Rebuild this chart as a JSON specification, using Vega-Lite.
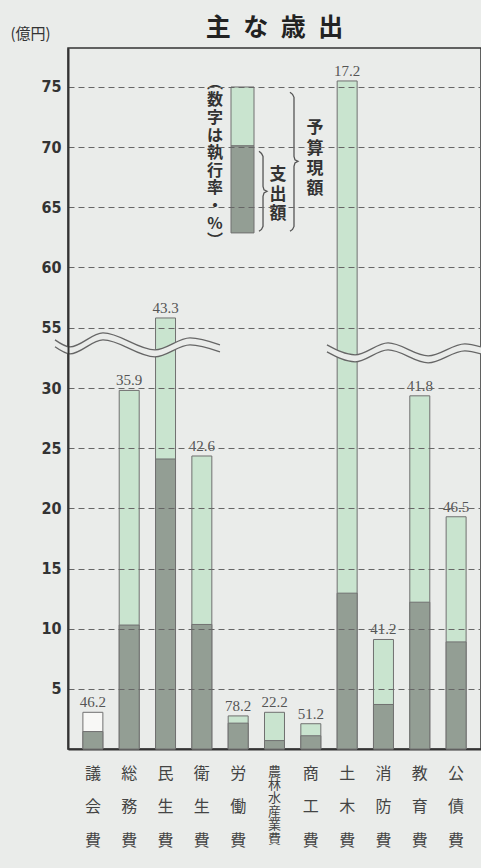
{
  "$schema": "https://vega.github.io/schema/vega-lite/v6.json",
  "width": 413,
  "height": 701,
  "autosize": "none",
  "padding": {"left": 68, "top": 48, "right": 0, "bottom": 119},
  "background": "#eaecea",
  "view": {"stroke": "#333", "strokeWidth": 1.5},
  "title": {"text": "主\u2002な\u2002歳\u2002出", "font": "Noto Sans CJK JP", "fontSize": 25, "fontWeight": "bold", "color": "#222", "baseline": "bottom", "offset": 0, "dy": 40, "anchor": "middle"},
  "datasets": {
    "main": [
      {"cat": "議会費", "budget": 3.05, "spent": 1.45, "rate": 46.2},
      {"cat": "総務費", "budget": 29.8, "spent": 10.3, "rate": 35.9},
      {"cat": "民生費", "budget": 55.8, "spent": 24.1, "rate": 43.3},
      {"cat": "衛生費", "budget": 24.35, "spent": 10.35, "rate": 42.6},
      {"cat": "労働費", "budget": 2.75, "spent": 2.15, "rate": 78.2},
      {"cat": "農林水産業費", "budget": 3.05, "spent": 0.7, "rate": 22.2},
      {"cat": "商工費", "budget": 2.1, "spent": 1.1, "rate": 51.2},
      {"cat": "土木費", "budget": 75.5, "spent": 12.95, "rate": 17.2},
      {"cat": "消防費", "budget": 9.1, "spent": 3.7, "rate": 41.2},
      {"cat": "教育費", "budget": 29.35, "spent": 12.2, "rate": 41.8},
      {"cat": "公債費", "budget": 19.3, "spent": 8.9, "rate": 46.5}
    ],
    "wave": [
      {"seg": "L", "u": -3.15, "top": 49.93, "bot": 47.04},
      {"seg": "L", "u": 0.48, "top": 47.04, "bot": 44.15},
      {"seg": "L", "u": 8.47, "top": 52.81, "bot": 49.92},
      {"seg": "L", "u": 21.07, "top": 45.8, "bot": 42.91},
      {"seg": "L", "u": 29.54, "top": 50.75, "bot": 47.86},
      {"seg": "L", "u": 36.8, "top": 47.86, "bot": 44.97},
      {"seg": "R", "u": 62.7, "top": 47.86, "bot": 44.97},
      {"seg": "R", "u": 69.5, "top": 43.74, "bot": 40.85},
      {"seg": "R", "u": 77.5, "top": 48.68, "bot": 45.79},
      {"seg": "R", "u": 87.2, "top": 43.33, "bot": 40.44},
      {"seg": "R", "u": 96.1, "top": 48.27, "bot": 45.38},
      {"seg": "R", "u": 100, "top": 47.04, "bot": 44.15}
    ],
    "brace": [
      {"b": "spent", "i": 0, "u": 46.25, "v": 69.65},
      {"b": "spent", "i": 1, "u": 46.85, "v": 69.48},
      {"b": "spent", "i": 2, "u": 47.22, "v": 69.23},
      {"b": "spent", "i": 3, "u": 47.22, "v": 66.74},
      {"b": "spent", "i": 4, "u": 47.46, "v": 66.45},
      {"b": "spent", "i": 5, "u": 48.18, "v": 66.33},
      {"b": "spent", "i": 6, "u": 47.46, "v": 66.2},
      {"b": "spent", "i": 7, "u": 47.22, "v": 65.91},
      {"b": "spent", "i": 8, "u": 47.22, "v": 63.41},
      {"b": "spent", "i": 9, "u": 46.85, "v": 63.16},
      {"b": "spent", "i": 10, "u": 46.25, "v": 63.0},
      {"b": "budget", "i": 0, "u": 53.75, "v": 74.56},
      {"b": "budget", "i": 1, "u": 54.36, "v": 74.39},
      {"b": "budget", "i": 2, "u": 54.72, "v": 74.14},
      {"b": "budget", "i": 3, "u": 54.72, "v": 69.23},
      {"b": "budget", "i": 4, "u": 54.96, "v": 68.94},
      {"b": "budget", "i": 5, "u": 55.69, "v": 68.82},
      {"b": "budget", "i": 6, "u": 54.96, "v": 68.69},
      {"b": "budget", "i": 7, "u": 54.72, "v": 68.4},
      {"b": "budget", "i": 8, "u": 54.72, "v": 63.41},
      {"b": "budget", "i": 9, "u": 54.36, "v": 63.16},
      {"b": "budget", "i": 10, "u": 53.75, "v": 63.0}
    ],
    "legend": [
      {"part": "予算現額", "lo": 70.1, "hi": 75.0},
      {"part": "支出額", "lo": 62.87, "hi": 70.1}
    ]
  },
  "layer": [
    {
      "data": {"name": "main"},
      "encoding": {
        "x": {
          "field": "cat", "type": "nominal", "sort": null,
          "scale": {"paddingInner": 0.45, "paddingOuter": 0.41},
          "axis": {
            "title": null, "ticks": false, "domainColor": "#333", "domainWidth": 2,
            "labelExpr": "length(datum.label) > 3 ? split(join(split(datum.label, ''), '\\n\u200b\\n'), '\\n') : split(join(split(datum.label, ''), '\\n\u200b\\n\u200b\\n\u200b\\n\u200b\\n'), '\\n')",
            "labelAngle": 0,
            "labelFont": "Noto Sans CJK JP",
            "labelFontSize": {"condition": {"test": "length(datum.label) > 3", "value": 13}, "value": 16},
            "labelColor": "#444",
            "labelBaseline": "top", "labelPadding": 16, "labelOverlap": false, "labelLineHeight": 6.7
          }
        }
      },
      "layer": [
        {
          "mark": {"type": "bar", "stroke": "#707070", "strokeWidth": 1},
          "encoding": {
            "y": {
              "field": "budget", "type": "quantitative",
              "scale": {"type": "linear", "domain": [0, 30, 55, 78.24], "range": [701, 340, 279.6, 0], "nice": false, "zero": false},
              "axis": {
                "values": [5, 10, 15, 20, 25, 30, 55, 60, 65, 70, 75],
                "title": "(億円)", "titleAngle": 0, "titleAlign": "left", "titleBaseline": "middle",
                "titleX": -58, "titleY": -15, "titleFont": "Noto Sans CJK JP", "titleFontSize": 15,
                "titleFontWeight": "normal", "titleColor": "#333",
                "ticks": false, "domainColor": "#333", "domainWidth": 2,
                "labelFont": "DejaVu Sans Condensed, Liberation Sans Narrow, DejaVu Sans", "labelFontWeight": "bold",
                "labelFontSize": 16, "labelColor": "#333", "labelPadding": 7,
                "grid": true, "gridDash": [6, 4], "gridColor": "#666", "gridWidth": 1, "zindex": 1
              }
            },
            "fill": {"condition": {"test": "datum.cat === '議会費'", "value": "#f8f8f6"}, "value": "#c9e4cf"}
          }
        },
        {
          "mark": {"type": "bar", "fill": "#939e94", "stroke": "#707070", "strokeWidth": 1},
          "encoding": {"y": {"field": "spent", "type": "quantitative"}}
        },
        {
          "mark": {"type": "text", "baseline": "bottom", "dy": -2, "font": "Liberation Serif", "fontSize": 15, "color": "#555"},
          "encoding": {
            "y": {"field": "budget", "type": "quantitative"},
            "text": {"field": "rate", "type": "quantitative", "format": ".1f"}
          }
        }
      ]
    },
    {
      "layer": [
        {
          "data": {"name": "wave"},
          "mark": {"type": "area", "interpolate": "monotone", "fill": "#eaecea"},
          "encoding": {
            "x": {"field": "u", "type": "quantitative", "scale": {"domain": [0, 100], "nice": false, "zero": false}, "axis": null},
            "y": {"field": "top", "type": "quantitative"},
            "y2": {"field": "bot"},
            "detail": {"field": "seg"}
          }
        },
        {
          "data": {"name": "wave"},
          "mark": {"type": "line", "interpolate": "monotone", "stroke": "#666", "strokeWidth": 1.3},
          "encoding": {
            "x": {"field": "u", "type": "quantitative"},
            "y": {"field": "top", "type": "quantitative"},
            "detail": {"field": "seg"}
          }
        },
        {
          "data": {"name": "wave"},
          "mark": {"type": "line", "interpolate": "monotone", "stroke": "#666", "strokeWidth": 1.3},
          "encoding": {
            "x": {"field": "u", "type": "quantitative"},
            "y": {"field": "bot", "type": "quantitative"},
            "detail": {"field": "seg"}
          }
        },
        {
          "data": {"name": "brace"},
          "mark": {"type": "line", "stroke": "#555", "strokeWidth": 1.3},
          "encoding": {
            "x": {"field": "u", "type": "quantitative"},
            "y": {"field": "v", "type": "quantitative"},
            "detail": {"field": "b"},
            "order": {"field": "i"}
          }
        },
        {
          "data": {"name": "legend"},
          "mark": {"type": "rect", "stroke": "#707070", "strokeWidth": 1},
          "encoding": {
            "x": {"datum": 39.47},
            "x2": {"datum": 45.04},
            "y": {"field": "lo", "type": "quantitative"},
            "y2": {"field": "hi"},
            "fill": {"condition": {"test": "datum.part === '支出額'", "value": "#939e94"}, "value": "#c9e4cf"}
          }
        },
        {
          "data": {"values": [{}]},
          "mark": {"type": "text", "text": ["︵", "数", "字", "は", "執", "行", "率", "・", "%", "︶"], "font": "Noto Sans CJK JP", "fontSize": 16, "fontWeight": "bold", "lineHeight": 17.6, "baseline": "top", "align": "center", "color": "#333"},
          "encoding": {"x": {"datum": 35.59}, "y": {"datum": 76.02}}
        },
        {
          "data": {"values": [{}]},
          "mark": {"type": "text", "text": ["支", "出", "額"], "font": "Noto Sans CJK JP", "fontSize": 17, "fontWeight": "bold", "lineHeight": 19.5, "baseline": "top", "align": "center", "color": "#333"},
          "encoding": {"x": {"datum": 50.85}, "y": {"datum": 68.32}}
        },
        {
          "data": {"values": [{}]},
          "mark": {"type": "text", "text": ["予", "算", "現", "額"], "font": "Noto Sans CJK JP", "fontSize": 17, "fontWeight": "bold", "lineHeight": 20.3, "baseline": "top", "align": "center", "color": "#333"},
          "encoding": {"x": {"datum": 59.81}, "y": {"datum": 72.23}}
        }
      ]
    }
  ],
  "resolve": {"scale": {"x": "independent"}}
}
